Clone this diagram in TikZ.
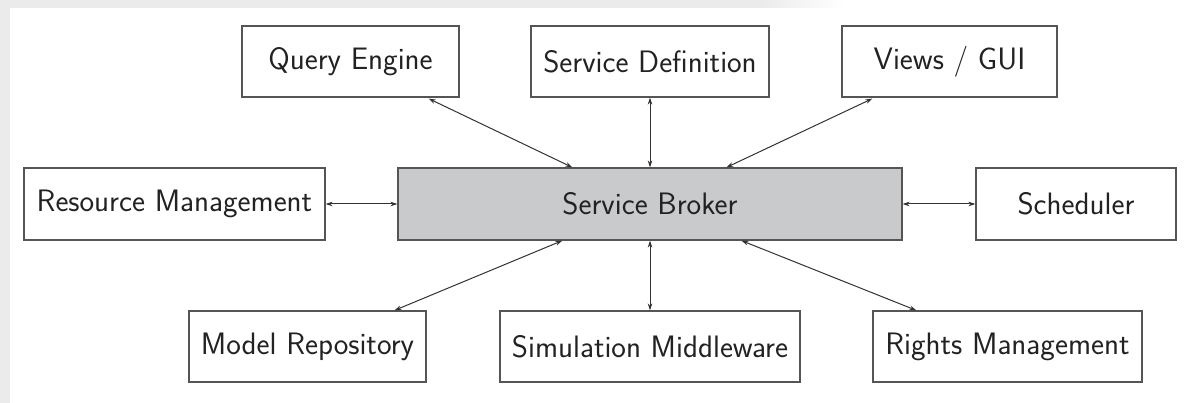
\documentclass[tikz,border=0pt]{standalone}
\usepackage{fontspec}
\usetikzlibrary{arrows.meta,calc}
\definecolor{framegray}{HTML}{EBEBEB}
\definecolor{boxline}{HTML}{555555}
\definecolor{brokerfill}{HTML}{C9CACC}
\definecolor{arrowcol}{HTML}{333333}
\definecolor{textcol}{HTML}{222222}
\begin{document}
\begin{tikzpicture}[x=1pt,y=-1pt,
  box/.style={draw=boxline, line width=1.2pt, fill=white, text=textcol,
    font=\sffamily\fontsize{31}{36}\selectfont, inner sep=0pt,
    minimum height=71pt},
  link/.style={arrowcol, line width=1pt, {Stealth[length=7pt,width=4.5pt]}-{Stealth[length=7pt,width=4.5pt]}}]
\useasboundingbox (0,0) rectangle (1187,403);
\fill[white] (0,0) rectangle (1187,403);
\fill[framegray] (0,0) rectangle (10,403);
\fill[framegray] (0,0) rectangle (760,8);
\shade[left color=framegray, right color=white] (760,0) rectangle (845,8);
% top row
\node[box, minimum width=217pt] (qe) at (350.5,61.5) {Query Engine};
\node[box, minimum width=238pt] (sd) at (650,61.5) {Service Definition};
\node[box, minimum width=215pt] (vg) at (949.5,61.5) {Views / GUI};
% middle row
\node[box, minimum width=301pt, minimum height=72pt] (rm) at (174.5,204) {Resource Management};
\node[box, minimum width=504pt, minimum height=72pt, fill=brokerfill] (sb) at (650,204) {Service Broker};
\node[box, minimum width=200pt, minimum height=72pt] (sc) at (1076,204) {Scheduler};
% bottom row
\node[box, minimum width=237pt] (mr) at (307.5,346.5) {Model Repository};
\node[box, minimum width=300pt] (smw) at (650,346.5) {Simulation Middleware};
\node[box, minimum width=269pt] (rgm) at (1007.5,346.5) {Rights Management};
% connectors
\draw[link] ([xshift=-31pt,yshift=-1pt]qe.south east) -- ([xshift=175pt]sb.north west);
\draw[link] (sd.south) -- (sb.north);
\draw[link] ([xshift=31pt,yshift=-1pt]vg.south west) -- ([xshift=329pt]sb.north west);
\draw[link] (rm.east) -- (sb.west);
\draw[link] (sb.east) -- (sc.west);
\draw[link] ([xshift=165pt]sb.south west) -- ([xshift=206pt]mr.north west);
\draw[link] (sb.south) -- (smw.north);
\draw[link] ([xshift=344pt]sb.south west) -- ([xshift=44pt]rgm.north west);
\end{tikzpicture}
\end{document}
